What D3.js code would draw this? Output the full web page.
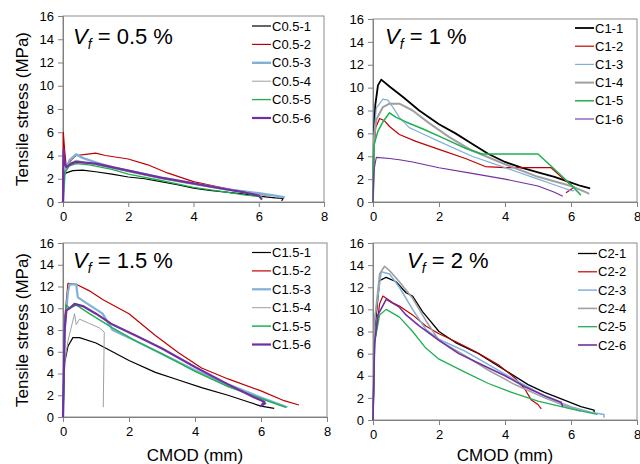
<!DOCTYPE html>
<html><head><meta charset="utf-8">
<script src="https://cdn.jsdelivr.net/npm/d3@7"></script>
<style>
body{margin:0;background:#fff;}
text{font-family:"Liberation Sans",Arial,sans-serif;fill:#000;}
</style></head>
<body><svg id="c" width="640" height="464"></svg>
<script>
// ---- data (CMOD mm, stress MPa) ----
const xTicks = [0,2,4,6,8];
const yTicks = [0,2,4,6,8,10,12,14,16];
const colors = ["#000000","#c00000","#7fb0dc","#a0a0a0","#1fb050","#7030a0"];

const titles = ["0.5 %","1 %","1.5 %","2 %"];
const labels05 = ["C0.5-1","C0.5-2","C0.5-3","C0.5-4","C0.5-5","C0.5-6"];
const labels1  = ["C1-1","C1-2","C1-3","C1-4","C1-5","C1-6"];
const labels15 = ["C1.5-1","C1.5-2","C1.5-3","C1.5-4","C1.5-5","C1.5-6"];
const labels2  = ["C2-1","C2-2","C2-3","C2-4","C2-5","C2-6"];

const c05_1 = [[0,0],[0.02,2.3],[0.1,2.5],[0.3,2.7],[0.6,2.75],[1.0,2.6],[1.5,2.4],[2,2.15],[2.5,2.0],[3,1.75],[3.5,1.5],[4,1.2],[4.5,1.0],[5,0.85],[5.5,0.7],[6,0.5],[6.5,0.35],[6.75,0.3],[6.7,0.1]];
const c05_2 = [[0,0],[0.01,6.0],[0.05,4.5],[0.1,3.0],[0.25,3.6],[0.4,4.0],[0.7,4.1],[1.0,4.2],[1.3,4.0],[2.0,3.7],[2.6,3.2],[3.2,2.5],[4.0,1.75],[4.6,1.4],[5.2,1.05],[5.8,0.8],[6.27,0.6]];
const c05_3 = [[0,0],[0.05,2.5],[0.2,3.6],[0.4,4.1],[0.6,3.8],[1.0,3.4],[1.5,3.0],[2,2.7],[3,2.1],[4,1.6],[5,1.1],[6,0.75],[6.5,0.55],[6.8,0.4]];
const c05_4 = [[0,0],[0.05,2.6],[0.2,3.3],[0.4,3.6],[0.7,3.4],[1.0,3.2],[1.5,2.9],[2,2.6],[3,2.0],[4,1.5],[5,1.05],[6,0.65],[6.3,0.5]];
const c05_5 = [[0,0],[0.05,2.5],[0.2,3.1],[0.4,3.3],[0.8,3.2],[1.5,2.8],[2,2.4],[3,1.85],[4,1.25],[5,0.85],[5.6,0.6],[6.1,0.45]];
const c05_6 = [[0,0],[0.02,4.5],[0.05,3.4],[0.1,3.0],[0.25,3.3],[0.4,3.45],[1.0,3.3],[1.5,3.0],[2,2.7],[3,2.1],[4,1.6],[5,1.1],[5.6,0.8],[6,0.55],[6.1,0.2]];

const c1_1 = [[0,0],[0.03,6],[0.07,8.5],[0.15,10.2],[0.25,10.7],[0.5,10.1],[0.9,9.2],[1.4,8.0],[2,6.8],[2.5,6.0],[3,5.1],[3.5,4.2],[4,3.5],[4.5,3.0],[5,2.6],[5.5,2.2],[6,1.7],[6.3,1.4],[6.58,1.2]];
const c1_2 = [[0,0],[0.03,4.5],[0.08,6.5],[0.2,7.3],[0.35,7.1],[0.5,6.6],[0.8,5.9],[1.3,5.3],[2,4.6],[2.8,3.8],[3.4,3.1],[4,3.0],[5.4,3.0],[5.7,2.2],[5.95,1.6],[6.1,1.3],[5.95,1.0],[5.85,0.8]];
const c1_3 = [[0,0],[0.03,6],[0.1,8.2],[0.3,9.0],[0.45,8.9],[0.6,8.3],[0.8,7.4],[1.1,6.5],[1.4,6.1],[2,5.3],[3,4.0],[4,3.0],[5,2.0],[5.6,1.4],[6.0,1.0],[6.1,1.0]];
const c1_4 = [[0,0],[0.03,5.5],[0.1,7.2],[0.3,8.3],[0.5,8.6],[0.8,8.6],[1.2,8.0],[1.7,6.9],[2.3,5.7],[3,4.5],[4,3.3],[5,2.2],[6,1.4],[6.5,0.8],[6.55,0.7]];
const c1_5 = [[0,0],[0.03,5],[0.15,6.2],[0.3,7.0],[0.5,7.8],[0.7,7.4],[1.0,7.0],[1.5,6.4],[2.2,5.5],[2.8,4.7],[3.3,4.2],[5.0,4.2],[5.6,2.6],[6.0,1.5],[6.3,0.6]];
const c1_6 = [[0,0],[0.03,2.8],[0.1,3.9],[0.5,3.8],[0.8,3.7],[1.2,3.5],[2,3.0],[3,2.5],[4,2.0],[5,1.4],[5.5,0.85],[5.75,0.5]];

const c15_1 = [[0,0],[0.05,5],[0.15,6.5],[0.3,7.3],[0.5,7.3],[1.0,6.8],[1.5,6.0],[2,5.2],[2.8,4.1],[3.5,3.4],[4.2,2.7],[5,2.0],[5.6,1.4],[6,1.0],[6.4,0.8]];
const c15_2 = [[0,0],[0.05,9],[0.15,12.3],[0.4,12.2],[0.8,11.6],[1.2,10.8],[2,9.5],[2.8,7.5],[3.5,5.9],[4.2,4.5],[5,3.5],[6,2.4],[6.7,1.5],[7.15,1.1]];
const c15_3 = [[0,0],[0.05,8],[0.15,11.5],[0.2,12.2],[0.4,12.2],[0.45,11.0],[0.7,10.5],[1.2,9.5],[1.5,8.0],[2.2,7.0],[3,5.8],[4,4.3],[5,3.0],[6,1.8],[6.8,0.9]];
const c15_4 = [[0,0],[0.05,5],[0.15,7.0],[0.35,9.5],[0.4,8.5],[0.5,9.0],[0.8,8.6],[1.1,8.2],[1.25,7.8],[1.22,0.9]];
const c15_5 = [[0,0],[0.05,8],[0.1,10.3],[0.2,10.0],[0.4,10.3],[0.8,9.5],[1.5,8.2],[2.2,7.0],[3,5.8],[4,4.2],[5,2.8],[6,1.7],[6.75,0.9]];
const c15_6 = [[0,0],[0.05,8],[0.1,9.8],[0.2,10.0],[0.35,10.4],[0.6,10.2],[1,9.5],[1.5,8.5],[2.2,7.5],[3,6.3],[4,4.6],[5,3.0],[5.8,1.8],[6.1,1.4],[6.0,1.0],[6.15,1.3]];

const c2_1 = [[0,0],[0.05,8],[0.2,12.6],[0.4,12.9],[0.7,12.5],[1.0,11.5],[1.2,11.2],[1.5,9.8],[2.0,8.0],[2.5,7.0],[3.2,6.0],[4,4.5],[4.7,3.2],[5.2,2.5],[5.8,1.8],[6.3,1.2],[6.7,0.9],[6.7,0.7]];
const c2_2 = [[0,0],[0.05,7],[0.2,10.5],[0.3,11.2],[0.6,10.6],[0.8,10.3],[1.2,9.5],[1.6,8.5],[2.0,7.8],[2.5,7.1],[3.1,6.2],[3.8,5.0],[4.3,3.8],[4.6,2.8],[4.8,1.8],[5.0,1.4],[5.1,1.0]];
const c2_3 = [[0,0],[0.05,9],[0.25,13.4],[0.5,13.2],[0.8,12.0],[1.2,10.0],[1.6,8.2],[2.0,7.3],[2.8,6.2],[3.5,5.0],[4.2,3.8],[4.8,2.8],[5.3,2.0],[6.0,1.2],[6.6,0.7],[7.0,0.5],[7.0,0.2]];
const c2_4 = [[0,0],[0.05,9],[0.2,13.2],[0.35,13.9],[0.5,13.5],[0.8,12.5],[1.2,11.0],[1.6,9.0],[2.0,7.2],[2.8,5.8],[3.5,4.5],[4.3,3.2],[5.2,2.0],[5.8,1.3],[6.3,0.8]];
const c2_5 = [[0,0],[0.05,7],[0.2,9.5],[0.4,10.0],[0.8,9.3],[1.2,8.0],[1.6,6.5],[2.0,5.5],[2.8,4.3],[3.5,3.3],[4.2,2.5],[5.0,1.7],[6.0,1.0],[6.8,0.5]];
const c2_6 = [[0,0],[0.05,7],[0.15,9.5],[0.4,10.9],[0.8,10.2],[1.0,9.5],[1.4,8.5],[2.0,7.2],[2.6,6.0],[3.3,5.0],[4.0,4.0],[4.6,3.0],[5.2,2.2],[5.7,1.6],[5.75,1.2]];

// ---- layout ----
const panels = [
  {x0:63,x1:324,y0:16,y1:202,title:titles[0],tx:73,ty:44,labels:labels05,series:[c05_1,c05_2,c05_3,c05_4,c05_5,c05_6],widths:[1.2,1.2,2.4,1,1.3,2.2],lg:{x:252,y:26,dy:18.4},ytitle:true,xtitle:false},
  {x0:373,x1:637,y0:19,y1:202,title:titles[1],tx:385,ty:44,labels:labels1,series:[c1_1,c1_2,c1_3,c1_4,c1_5,c1_6],widths:[1.8,1.2,1.2,2,1.5,1.1],lg:{x:575,y:28,dy:18.2},ytitle:false,xtitle:false},
  {x0:63,x1:327,y0:243,y1:417,title:titles[2],tx:73,ty:268,labels:labels15,series:[c15_1,c15_2,c15_3,c15_4,c15_5,c15_6],widths:[1.2,1.2,2.2,1,1.5,2.2],lg:{x:252,y:252.5,dy:18.4},ytitle:true,xtitle:true},
  {x0:373,x1:637,y0:243,y1:420,title:titles[3],tx:407,ty:268,labels:labels2,series:[c2_1,c2_2,c2_3,c2_4,c2_5,c2_6],widths:[1.3,1.2,1.5,1.6,1.3,1.6],lg:{x:578,y:253.5,dy:18.3},ytitle:false,xtitle:true}
];

const svg = d3.select("#c");
panels.forEach(p => {
  const x = d3.scaleLinear().domain([0,8]).range([p.x0,p.x1]);
  const y = d3.scaleLinear().domain([0,16]).range([p.y1,p.y0]);
  const g = svg.append("g");
  // frame
  g.append("rect").attr("x",p.x0).attr("y",p.y0).attr("width",p.x1-p.x0).attr("height",p.y1-p.y0)
    .attr("fill","none").attr("stroke","#8c8c8c").attr("stroke-width",1);
  // axes
  const ya = g.append("g").attr("transform",`translate(${p.x0},0)`)
    .call(d3.axisLeft(y).tickValues(yTicks).tickSize(5).tickPadding(4));
  const xa = g.append("g").attr("transform",`translate(0,${p.y1})`)
    .call(d3.axisBottom(x).tickValues(xTicks).tickSize(5).tickPadding(5));
  [ya,xa].forEach(a=>{
    a.select(".domain").attr("stroke","#808080");
    a.selectAll(".tick line").attr("stroke","#808080");
    a.selectAll(".tick text").style("font-size","13px").style("font-family","'Liberation Sans',Arial,sans-serif").attr("fill","#222");
  });
  // lines
  const line = d3.line().x(d=>x(d[0])).y(d=>y(d[1]));
  p.series.forEach((s,i)=>{
    g.append("path").datum(s).attr("d",line).attr("fill","none")
      .attr("stroke",colors[i]).attr("stroke-width",p.widths[i]).attr("stroke-linejoin","round");
  });
  // legend
  p.labels.forEach((l,i)=>{
    const yy = p.lg.y + i*p.lg.dy;
    g.append("line").attr("x1",p.lg.x).attr("x2",p.lg.x+19).attr("y1",yy).attr("y2",yy)
      .attr("stroke",colors[i]).attr("stroke-width",p.widths[i]);
    g.append("text").attr("x",p.lg.x+20).attr("y",yy).attr("dy","0.35em").style("font-size","13px").text(l);
  });
  // title
  const t = g.append("text").attr("x",p.tx).attr("y",p.ty).style("font-size","22px");
  t.append("tspan").style("font-style","italic").text("V");
  t.append("tspan").style("font-style","italic").style("font-size","14px").attr("dy",5).text("f");
  t.append("tspan").attr("dy",-5).text(" = " + p.title);
  if (p.ytitle) {
    svg.append("text").attr("transform",`translate(22,${(p.y0+p.y1)/2}) rotate(-90)`)
      .attr("text-anchor","middle").attr("dy","0.35em").style("font-size","17px").text("Tensile stress (MPa)");
  }
  if (p.xtitle) {
    svg.append("text").attr("x",(p.x0+p.x1)/2).attr("y",455).attr("text-anchor","middle")
      .attr("dy","0.35em").style("font-size","17px").text("CMOD (mm)");
  }
});
</script></body></html>
